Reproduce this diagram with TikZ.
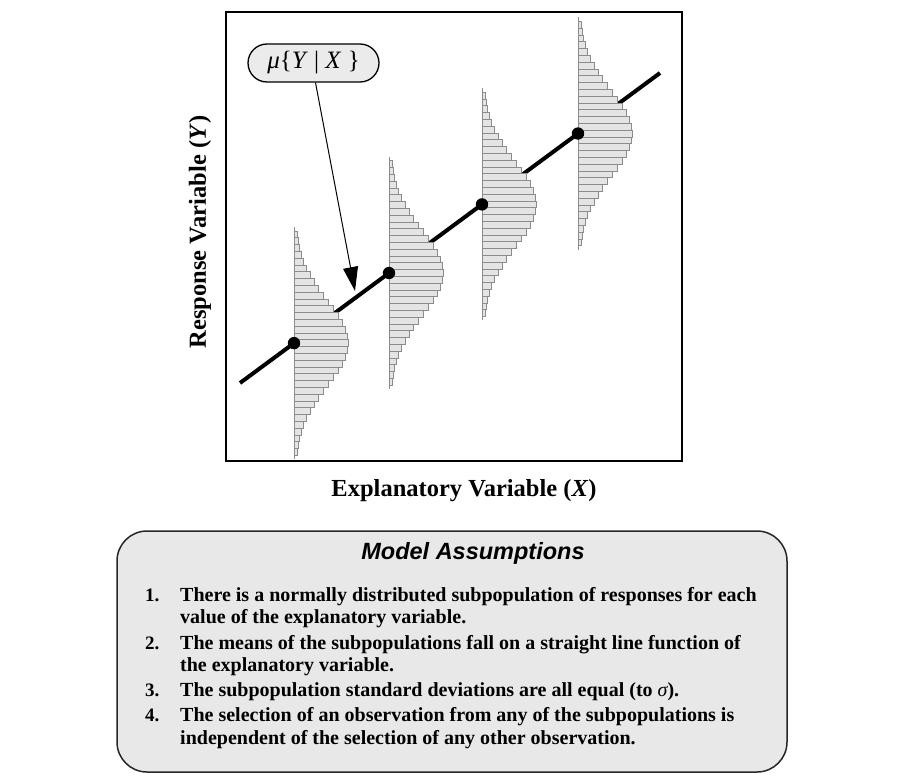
\documentclass[tikz,border=0pt]{standalone}
\usepackage{fontspec}
\setmainfont{Liberation Serif}
\setsansfont{Liberation Sans}
\usetikzlibrary{arrows.meta}
\definecolor{barfill}{HTML}{E4E4E4}
\definecolor{barline}{HTML}{8C8C8C}
\definecolor{boxfill}{HTML}{E8E8E8}
\definecolor{lblfill}{HTML}{EBEBEB}
\tikzset{
  frame/.style={draw=black,line width=1.4pt},
  regline/.style={line width=4pt,black},
  histbar/.style={draw=barline,fill=barfill,line width=0.7pt},
  histaxis/.style={draw=barline,line width=1pt},
  meandot/.style={fill=black},
  axislabel/.style={font=\fontsize{24.5}{28}\selectfont\bfseries,inner sep=0pt},
  itemtext/.style={font=\fontsize{20}{22}\selectfont\bfseries,anchor=base west,inner sep=0pt},
  itemnum/.style={font=\fontsize{19}{22}\selectfont\bfseries,anchor=base west,inner sep=0pt},
}
\begin{document}
\begin{tikzpicture}[x=1pt,y=-1pt]
\useasboundingbox (0,0) rectangle (902,784);
\fill[white] (0,0) rectangle (902,784);
% plot frame
\draw[frame] (226,12) rectangle (682,461);
% regression line
\coordinate (ls) at (240,383);
\coordinate (le) at (660,73);
\draw[regline] (ls) -- (le);
% histograms
\foreach \cx/\cy [count=\n] in {294/343.1, 389/273, 482/204.4, 578/133.5} {
  \foreach \k in {-16,...,16} {
    \pgfmathsetmacro\w{1+53*exp(-((\k)*(\k))*46.24/3698)}
    \pgfmathsetmacro\ya{\cy+(\k)*6.8-3.4}
    \pgfmathsetmacro\yb{\cy+(\k)*6.8+3.4}
    \draw[histbar] (\cx,\ya) rectangle (\cx+\w,\yb);
  }
  \pgfmathsetmacro\yt{\cy-116}
  \pgfmathsetmacro\yB{\cy+116}
  \draw[histaxis] (\cx,\yt) -- (\cx,\yB);
  \fill[meandot] (\cx,\cy) circle (6.2);
}
% label
\node[draw=black,line width=1.3pt,fill=lblfill,rounded corners=19pt,minimum width=131pt,minimum height=38pt,inner sep=0pt,
  font=\fontsize{25}{28}\selectfont] (lbl) at (313.5,63) {\textit{μ}\{\textit{Y}\ |\ \textit{X}\ \}};
\coordinate (tip) at (355,291);
\draw[line width=1pt,-{Triangle[length=24pt,width=15pt]}] (lbl.south) ++(2,0) coordinate (as) (as) -- (tip);
% axis labels
\node[axislabel] (xlab) at (464,491) {Explanatory Variable (\textit{X})};
\node[axislabel,rotate=90] (ylab) at (200,232) {Response Variable (\textit{Y})};
% assumptions box
\draw[draw=black!85,line width=1.5pt,fill=boxfill,rounded corners=30pt] (117,531) rectangle (787,772);
\node[font=\fontsize{23.5}{26}\sffamily\bfseries\itshape,inner sep=0pt] (title) at (473,553) {Model Assumptions};
\node[itemnum] (n1) at (145,601) {1.};
\node[itemtext] (t1a) at (180,601) {There is a normally distributed subpopulation of responses for each};
\node[itemtext] (t1b) at (180,623) {value of the explanatory variable.};
\node[itemnum] (n2) at (145,649) {2.};
\node[itemtext] (t2a) at (180,649) {The means of the subpopulations fall on a straight line function of};
\node[itemtext] (t2b) at (180,671) {the explanatory variable.};
\node[itemnum] (n3) at (145,696) {3.};
\node[itemtext] (t3a) at (180,696) {The subpopulation standard deviations are all equal (to {\mdseries\itshape σ}).};
\node[itemnum] (n4) at (145,721) {4.};
\node[itemtext] (t4a) at (180,721) {The selection of an observation from any of the subpopulations is};
\node[itemtext] (t4b) at (180,744) {independent of the selection of any other observation.};
\end{tikzpicture}
\end{document}
